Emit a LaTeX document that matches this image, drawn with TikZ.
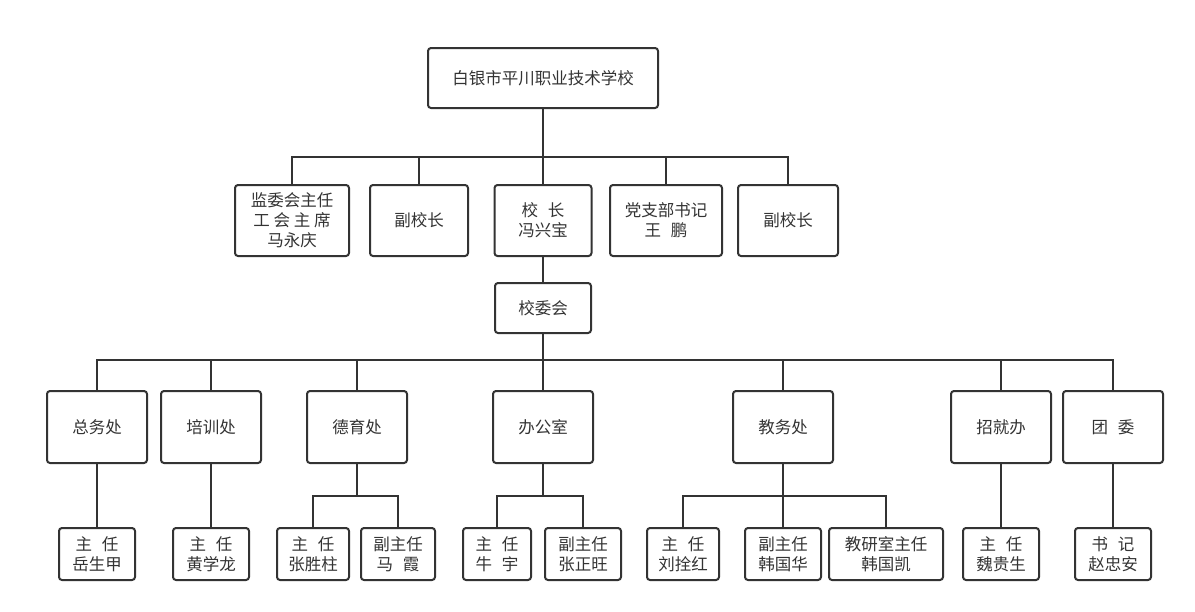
\documentclass[tikz,border=0pt]{standalone}
\usepackage{fontspec}
\setmainfont{Noto Sans CJK SC}
\usepackage{tikz}
\definecolor{ink}{HTML}{333333}
\tikzstyle{unit}=[draw=ink, text=ink, line width=2pt, rounded corners=3pt, align=center, inner sep=0pt, font=\fontsize{16.5}{20}\selectfont]
\tikzstyle{head}=[unit, minimum height=71pt]
\tikzstyle{dept}=[unit, minimum width=100pt, minimum height=72pt]
\tikzstyle{member}=[unit, minimum width=76pt, minimum height=52pt]
\tikzstyle{link}=[draw=ink, line width=2pt]
\newcommand{\gap}{\hspace{0.6em}}

\begin{document}
\begin{tikzpicture}[x=1pt, y=-1pt]
        \useasboundingbox (0,0) rectangle (1195,611);
        \node[unit, minimum width=230pt, minimum height=60pt] (S) at (543,78) {白银市平川职业技术学校};
        % leaders
        \node[head, minimum width=114pt] (L1) at (292,220.5) {监委会主任\\工 会 主 席\\马永庆};
        \node[head, minimum width=98pt]  (L2) at (419,220.5) {副校长};
        \node[head, minimum width=97pt]  (L3) at (543,220.5) {校\gap 长\\冯兴宝};
        \node[head, minimum width=112pt] (L4) at (666,220.5) {党支部书记\\王\gap 鹏};
        \node[head, minimum width=100pt] (L5) at (788,220.5) {副校长};
        \node[unit, minimum width=96pt, minimum height=50pt] (C) at (543,308) {校委会};
        % departments
        \node[dept] (D1) at (97,427)   {总务处};
        \node[dept] (D2) at (211,427)  {培训处};
        \node[dept] (D3) at (357,427)  {德育处};
        \node[dept] (D4) at (543,427)  {办公室};
        \node[dept] (D5) at (783,427)  {教务处};
        \node[dept] (D6) at (1001,427) {招就办};
        \node[dept] (D7) at (1113,427) {团\gap 委};
        % members
        \node[member] (P1) at (97,554)  {主\gap 任\\岳生甲};
        \node[member] (P2) at (211,554) {主\gap 任\\黄学龙};
        \node[member, minimum width=72pt] (P3) at (313,554) {主\gap 任\\张胜柱};
        \node[member, minimum width=74pt] (P4) at (398,554) {副主任\\马\gap 霞};
        \node[member, minimum width=68pt] (P5) at (497,554) {主\gap 任\\牛\gap 宇};
        \node[member] (P6) at (583,554) {副主任\\张正旺};
        \node[member, minimum width=72pt] (P7) at (683,554) {主\gap 任\\刘拴红};
        \node[member] (P8) at (783,554) {副主任\\韩国华};
        \node[member, minimum width=114pt] (P9) at (886,554) {教研室主任\\韩国凯};
        \node[member] (P10) at (1001,554) {主\gap 任\\魏贵生};
        \node[member] (P11) at (1113,554) {书\gap 记\\赵忠安};
        % buses
        \coordinate (B1) at (543,157);
        \coordinate (B2) at (543,360);
        \coordinate (B3) at (357,496);
        \coordinate (B4) at (543,496);
        \coordinate (B5) at (783,496);
        \draw[link] (S) -- (L3);
        \draw[link] (L1.north) |- (B1) -| (L5.north);
        \draw[link] (L2.north) |- (B1);
        \draw[link] (L4.north) |- (B1);
        \draw[link] (L3) -- (C);
        \draw[link] (C) -- (D4);
        \draw[link] (D1.north) |- (B2) -| (D7.north);
        \foreach \d in {D2,D3,D5,D6}
            \draw[link] (\d.north) |- (B2);
        \draw[link] (D1) -- (P1);
        \draw[link] (D2) -- (P2);
        \draw[link] (D3.south) -- (B3);
        \draw[link] (P3.north) |- (B3) -| (P4.north);
        \draw[link] (D4.south) -- (B4);
        \draw[link] (P5.north) |- (B4) -| (P6.north);
        \draw[link] (D5) -- (P8);
        \draw[link] (P7.north) |- (B5) -| (P9.north);
        \draw[link] (D6) -- (P10);
        \draw[link] (D7) -- (P11);
    \end{tikzpicture}
\end{document}
